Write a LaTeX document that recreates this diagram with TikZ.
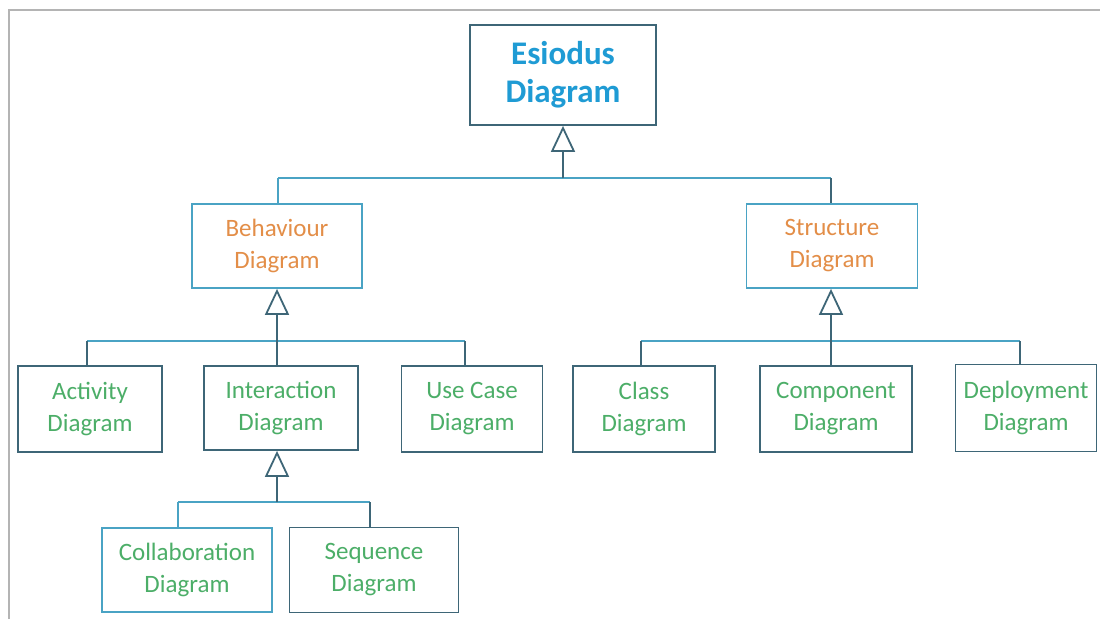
\documentclass[tikz,border=0pt]{standalone}
\usepackage{fontspec}
\setmainfont{Carlito}
\usetikzlibrary{arrows.meta,calc}
\definecolor{tblue}{HTML}{1F9BD4}
\definecolor{torange}{HTML}{E38E48}
\definecolor{tgreen}{HTML}{4CAE68}
\definecolor{boxdark}{HTML}{3E6677}
\definecolor{boxlight}{HTML}{4AA3C4}
\definecolor{frame}{HTML}{B4B4B4}
\begin{document}
\begin{tikzpicture}[x=1pt,y=-1pt,
  box/.style={draw, line width=1.8pt, fill=white, align=center, inner sep=0pt,
    font=\fontsize{25}{32}\selectfont, text=tgreen},
  dbox/.style={box, draw=boxdark},
  lbox/.style={box, draw=boxlight},
  gen/.style={draw=boxdark, line width=1.8pt,
    -{Triangle[open,length=26pt,width=24pt,fill=white]}},
  bar/.style={draw=boxlight, line width=1.8pt},
  ddrop/.style={draw=boxdark, line width=1.8pt},
  ldrop/.style={draw=boxlight, line width=1.8pt}]
\useasboundingbox (0,0) rectangle (1100,619);
\fill[white] (0,0) rectangle (1100,619);
% frame
\draw[frame, line width=2pt] (9,619) -- (9,10) -- (1100,10);

% nodes
\node[dbox, minimum width=186pt, minimum height=100pt, text=tblue,
  font=\fontsize{33}{38}\selectfont\bfseries] (esiodus) at (563,75) {Esiodus\\Diagram};
\node[lbox, minimum width=170pt, minimum height=84pt, text=torange] (behav) at (277,246) {Behaviour\\Diagram};
\node[lbox, minimum width=171pt, minimum height=84pt, text=torange] (struct) at (832,246) {Structure\\Diagram};

\node[dbox, minimum width=144pt, minimum height=86pt] (activity) at (90,409) {Activity\\Diagram};
\node[dbox, minimum width=154pt, minimum height=84pt] (interaction) at (281,408) {Interaction\\Diagram};
\node[dbox, minimum width=141pt, minimum height=86pt] (usecase) at (472,409) {Use Case\\Diagram};

\node[dbox, minimum width=142pt, minimum height=86pt] (class) at (644,409) {Class\\Diagram};
\node[dbox, minimum width=152pt, minimum height=86pt] (component) at (836,409) {Component\\Diagram};
\node[dbox, minimum width=141pt, minimum height=87pt] (deployment) at (1026,408) {Deployment\\Diagram};

\node[lbox, minimum width=170pt, minimum height=84pt] (collab) at (187,570) {Collaboration\\Diagram};
\node[dbox, minimum width=169pt, minimum height=85pt] (sequence) at (374,570) {Sequence\\Diagram};

% junction coordinates
\coordinate (j0) at (563,178);
\coordinate (d0a) at (278,178);
\coordinate (d0b) at (831,178);

\coordinate (j1) at (277,341);
\coordinate (d1a) at (87,341);
\coordinate (d1c) at (465,341);

\coordinate (j2) at (831,341);
\coordinate (d2a) at (641,341);
\coordinate (d2c) at (1020,341);

\coordinate (j3) at (277,502);
\coordinate (d3a) at (178,502);
\coordinate (d3b) at (370,502);

% top level
\draw[bar] (d0a) -- (d0b);
\draw[ldrop] (d0a) -- (d0a |- behav.north);
\draw[ddrop] (d0b) -- (d0b |- struct.north);
\draw[gen] (j0) -- (j0 |- esiodus.south);

% behaviour children
\draw[bar] (d1a) -- (d1c);
\draw[ddrop] (d1a) -- (d1a |- activity.north);
\draw[ddrop] (j1) -- (j1 |- interaction.north);
\draw[ddrop] (d1c) -- (d1c |- usecase.north);
\draw[gen] (j1) -- (j1 |- behav.south);

% structure children
\draw[bar] (d2a) -- (d2c);
\draw[ddrop] (d2a) -- (d2a |- class.north);
\draw[ddrop] (j2) -- (j2 |- component.north);
\draw[ddrop] (d2c) -- (d2c |- deployment.north);
\draw[gen] (j2) -- (j2 |- struct.south);

% interaction children
\draw[bar] (d3a) -- (d3b);
\draw[ldrop] (d3a) -- (d3a |- collab.north);
\draw[ddrop] (d3b) -- (d3b |- sequence.north);
\draw[gen] (j3) -- (j3 |- interaction.south);
\end{tikzpicture}
\end{document}
